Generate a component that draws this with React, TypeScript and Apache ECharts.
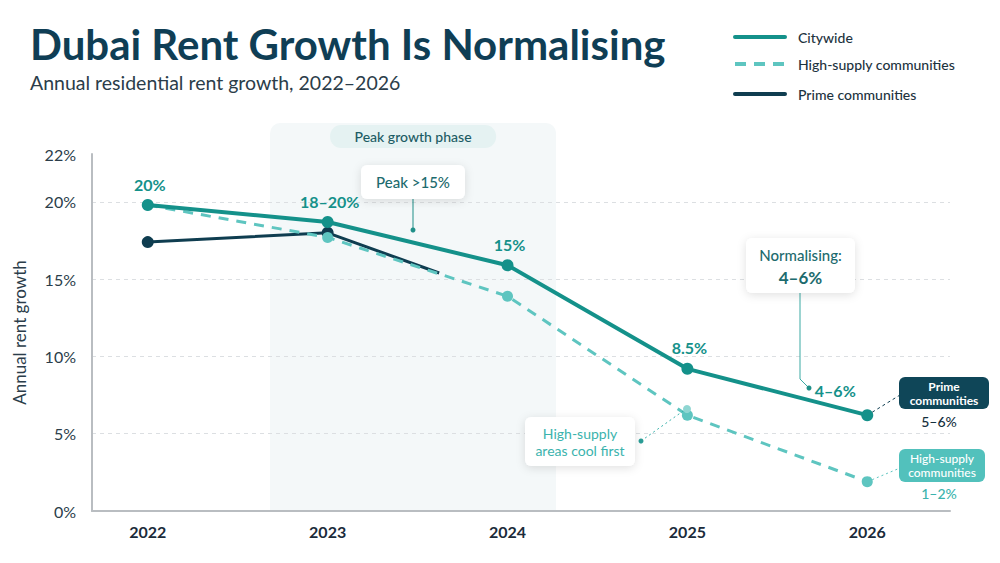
import React, { useEffect, useRef } from "react";
import * as echarts from "echarts";

const years = [2022, 2023, 2024, 2025, 2026];
const citywide = [19.8, 18.7, 15.9, 9.2, 6.2];
const citywideLabels = ["20%", "18–20%", "15%", "8.5%", "4–6%"];
const highSupply = [19.8, 17.7, 13.9, 6.2, 1.9];
const primeYears = [2022, 2023, 2023.62];
const prime = [17.4, 18.0, 15.4];
const yTicks = [5, 10, 15, 20];
const yTopLabel = "22%";
const peakPhase = [2022.68, 2024.27];

const X_MIN = 2021.69;
const X_MAX = 2026.46;
const Y_MAX = 23.1;

const C_CITY = "#14918a";
const C_HIGH = "#5ec5c0";
const C_PRIME = "#0f3d50";
const C_TITLE = "#0f3e55";
const C_TEXT = "#2b3d4a";
const FONT = "Lato, 'Noto Sans', sans-serif";

export default function App() {
  const ref = useRef<HTMLDivElement>(null);
  useEffect(() => {
    document.body.style.margin = "0";
    const chart = echarts.init(ref.current!, null, { renderer: "svg" });
    const option: any = {
      animation: false,
      backgroundColor: "#ffffff",
      textStyle: { fontFamily: FONT },
      grid: { left: 92, right: 50, top: 154, bottom: 52 },
      xAxis: {
        type: "value",
        min: X_MIN,
        max: X_MAX,
        axisLine: { show: true, lineStyle: { color: "#b9bdc1", width: 2 } },
        axisTick: { show: false },
        splitLine: { show: false },
        axisLabel: {
          customValues: years,
          formatter: (v: number) => String(v),
          color: "#1b2b3a",
          fontWeight: "bold",
          fontSize: 16,
          fontFamily: FONT,
          margin: 12,
        },
      },
      yAxis: {
        type: "value",
        min: 0,
        max: Y_MAX,
        name: "Annual rent growth",
        nameLocation: "middle",
        nameRotate: 90,
        nameGap: 64,
        nameTextStyle: { color: C_TEXT, fontSize: 17, fontFamily: FONT },
        axisLine: { show: true, lineStyle: { color: "#b9bdc1", width: 2 } },
        axisTick: { show: false },
        splitLine: { show: false },
        axisLabel: {
          customValues: [0, ...yTicks, Y_MAX],
          formatter: (v: number) => (v >= Y_MAX ? yTopLabel : v + "%"),
          color: C_TEXT,
          fontSize: 16,
          fontFamily: FONT,
          margin: 16,
        },
      },
      series: [
        {
          name: "Prime communities",
          type: "line",
          data: primeYears.map((y, i) => ({
            value: [y, prime[i]],
            symbolSize: i < 2 ? 12 : 0,
          })),
          symbol: "circle",
          itemStyle: { color: C_PRIME },
          lineStyle: { color: C_PRIME, width: 3 },
          z: 3,
        },
        {
          name: "High-supply communities",
          type: "line",
          data: years.map((y, i) => [y, highSupply[i]]),
          symbol: "circle",
          symbolSize: 11,
          itemStyle: { color: C_HIGH },
          lineStyle: { color: C_HIGH, width: 3, type: [10, 8] },
          markLine: {
            silent: true,
            symbol: "none",
            label: { show: false },
            lineStyle: { color: "#dcdfe2", type: [4, 4], width: 1 },
            data: yTicks.map((v) => ({ yAxis: v })),
            z: 0,
          },
          z: 4,
        },
        {
          name: "Citywide",
          type: "line",
          data: years.map((y, i) => ({
            value: [y, citywide[i]],
            label: {
              show: true,
              formatter: citywideLabels[i],
              position: "top",
              distance: 7,
              offset: i === 4 ? [-32, -4] : [2, 0],
              color: C_CITY,
              fontWeight: "bold",
              fontSize: 16,
              fontFamily: FONT,
            },
          })),
          symbol: "circle",
          symbolSize: 12,
          itemStyle: { color: C_CITY },
          lineStyle: { color: C_CITY, width: 4 },
          z: 5,
        },
      ],
    };
    chart.setOption(option);

    const px = (x: number, y: number) => chart.convertToPixel({ gridIndex: 0 }, [x, y]) as number[];
    const bl = px(peakPhase[0], 0);
    const br = px(peakPhase[1], 0);
    const bandTop = 123;
    const cx = (bl[0] + br[0]) / 2;

    const box = (x: number, y: number, w: number, h: number, fill: string, shadow = true) => ({
      type: "rect",
      shape: { x, y, width: w, height: h, r: 6 },
      style: {
        fill,
        shadowBlur: shadow ? 10 : 0,
        shadowOffsetY: shadow ? 2 : 0,
        shadowColor: shadow ? "rgba(0,0,0,0.12)" : "transparent",
      },
      z: 20,
    });
    const txt = (x: number, y: number, text: string, fill: string, size: number, weight: any = "normal", align = "center") => ({
      type: "text",
      x,
      y,
      style: {
        text,
        fill,
        fontSize: size,
        fontWeight: weight,
        fontFamily: FONT,
        align,
        verticalAlign: "middle",
      },
      z: 21,
    });

    const c2026 = px(2026, citywide[4]);
    const h2026 = px(2026, highSupply[4]);

    const graphic: any[] = [
      // peak band
      {
        type: "rect",
        shape: { x: bl[0], y: bandTop, width: br[0] - bl[0], height: bl[1] - bandTop, r: [10, 10, 0, 0] },
        style: { fill: "#f4f8f9" },
        z: -10,
      },
      {
        type: "rect",
        shape: { x: cx - 83, y: 125, width: 166, height: 23, r: 11 },
        style: { fill: "#e5f2f2" },
        z: -9,
      },
      txt(cx, 136.5, "Peak growth phase", "#1c5c64", 14, 500),
      // title & subtitle
      txt(30, 44, "Dubai Rent Growth Is Normalising", C_TITLE, 42, "bold", "left"),
      txt(30, 82, "Annual residential rent growth, 2022–2026", C_TEXT, 19.5, "normal", "left"),
      // legend
      { type: "line", shape: { x1: 735, y1: 37, x2: 785, y2: 37 }, style: { stroke: C_CITY, lineWidth: 4, lineCap: "round" } },
      { type: "line", shape: { x1: 735, y1: 64, x2: 785, y2: 64 }, style: { stroke: C_HIGH, lineWidth: 4, lineDash: [11, 8] } },
      { type: "line", shape: { x1: 735, y1: 94, x2: 785, y2: 94 }, style: { stroke: C_PRIME, lineWidth: 4, lineCap: "round" } },
      txt(798, 37, "Citywide", "#1d3340", 14, 500, "left"),
      txt(798, 64, "High-supply communities", "#1d3340", 14, 500, "left"),
      txt(798, 94, "Prime communities", "#1d3340", 14, 500, "left"),
      // Peak >15% annotation
      { type: "line", shape: { x1: 413, y1: 199, x2: 413, y2: 230 }, style: { stroke: "#1f8f88", lineWidth: 1 }, z: 19 },
      { type: "circle", shape: { cx: 413, cy: 230, r: 2.5 }, style: { fill: "#1f8f88" }, z: 19 },
      box(361, 165, 104, 34, "#ffffff"),
      txt(413, 182, "Peak >15%", "#1d6b6e", 15, 500),
      // Normalising annotation
      { type: "polyline", shape: { points: [[800, 293], [800, 379], [809, 388]] }, style: { stroke: "#3aa9a3", lineWidth: 1, fill: "none" }, z: 19 },
      { type: "circle", shape: { cx: 809, cy: 388, r: 2.5 }, style: { fill: "#1f8f88" }, z: 19 },
      box(746, 238, 109, 55, "#ffffff"),
      txt(800.5, 255, "Normalising:", "#1d6b6e", 15, 500),
      txt(800.5, 277, "4–6%", "#1d6b6e", 17, "bold"),
      // High-supply cool first
      { type: "line", shape: { x1: 641, y1: 441, x2: 686, y2: 409 }, style: { stroke: "#3bb3ad", lineWidth: 1, lineDash: [2, 3] }, z: 19 },
      { type: "circle", shape: { cx: 641, cy: 441, r: 2.5 }, style: { fill: "#2a9d96" }, z: 19 },
      { type: "circle", shape: { cx: 687, cy: 409, r: 4 }, style: { fill: "#8fd6d2" }, z: 19 },
      box(525, 417, 110, 49, "#ffffff"),
      txt(580, 433, "High-supply", "#3bb3ad", 14, "normal"),
      txt(580, 450, "areas cool first", "#3bb3ad", 14, "normal"),
      // Prime end label
      { type: "line", shape: { x1: c2026[0] + 5, y1: c2026[1] - 3, x2: 900, y2: 395 }, style: { stroke: C_PRIME, lineWidth: 1, lineDash: [3, 3] }, z: 19 },
      box(899, 377, 90, 32, "#0f4658", false),
      txt(944, 386, "Prime", "#ffffff", 12, "bold"),
      txt(944, 400, "communities", "#ffffff", 12, "bold"),
      txt(939, 421, "5–6%", "#15303d", 14, 500),
      // High-supply end label
      { type: "line", shape: { x1: h2026[0] + 5, y1: h2026[1] - 2, x2: 900, y2: 468 }, style: { stroke: C_HIGH, lineWidth: 1, lineDash: [2, 3] }, z: 19 },
      box(899, 449, 86, 33, "#52c1bc", false),
      txt(942, 458, "High-supply", "#ffffff", 12, 500),
      txt(942, 472, "communities", "#ffffff", 12, 500),
      txt(939, 493, "1–2%", "#3bb3ad", 14, 500),
    ];
    chart.setOption({ graphic });
    return () => chart.dispose();
  }, []);
  return <div ref={ref} style={{ width: 1000, height: 563 }} />;
}
